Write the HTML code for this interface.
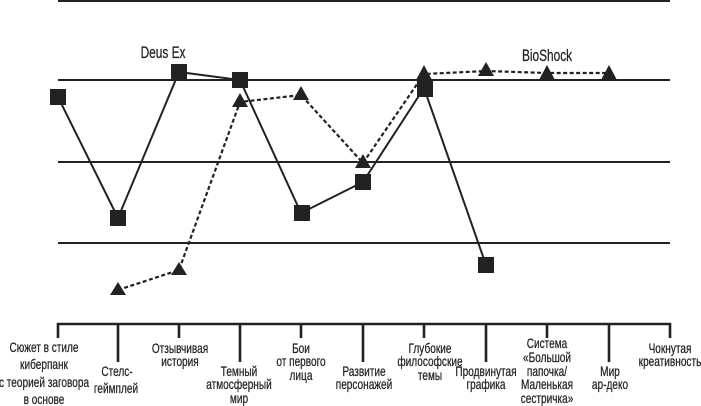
<!DOCTYPE html>
<html><head><meta charset="utf-8"><style>
html,body{margin:0;padding:0;background:#fff;}
svg{display:block;}
text{font-family:"Liberation Sans","DejaVu Sans",sans-serif;fill:#222;stroke:#222;stroke-width:0.25;}
.l{font-size:14px;}
</style></head><body>
<svg width="701" height="406" viewBox="0 0 701 406" xmlns="http://www.w3.org/2000/svg">
<g stroke="#222" stroke-width="2">
<line x1="58" y1="1" x2="670" y2="1"/>
<line x1="58" y1="80" x2="670" y2="80"/>
<line x1="58" y1="162" x2="670" y2="162"/>
<line x1="58" y1="243" x2="670" y2="243"/>
</g>
<g stroke="#222" stroke-width="2.6" fill="none">
<line x1="57" y1="324" x2="671" y2="324"/>
<line x1="58" y1="323" x2="58" y2="338"/>
<line x1="118" y1="323" x2="118" y2="362"/>
<line x1="179" y1="323" x2="179" y2="338"/>
<line x1="240" y1="323" x2="240" y2="362"/>
<line x1="301" y1="323" x2="301" y2="338"/>
<line x1="363" y1="323" x2="363" y2="362"/>
<line x1="424" y1="323" x2="424" y2="338"/>
<line x1="486" y1="323" x2="486" y2="362"/>
<line x1="547" y1="323" x2="547" y2="338"/>
<line x1="609" y1="323" x2="609" y2="362"/>
<line x1="670" y1="323" x2="670" y2="338"/>
</g>
<!-- BioShock dashed -->
<polyline fill="none" stroke="#222" stroke-width="2.2" stroke-dasharray="4,2.5" points="118,290 179,270 240,102 301,95 363,163 424,74 486,71 547,73 609,73"/>
<g fill="#222">
<polygon points="110,295 126,295 118,282"/>
<polygon points="171,275 187,275 179,262"/>
<polygon points="232,107 248,107 240,93"/>
<polygon points="293,100 309,100 301,86"/>
<polygon points="355,168 371,168 363,154"/>
<polygon points="478,76 494,76 486,62"/>
<polygon points="539,80 555,80 547,65"/>
<polygon points="601,80 617,80 609,65"/>
</g>
<!-- Deus Ex solid -->
<polyline fill="none" stroke="#222" stroke-width="2" points="58,97 118,218 179,72 240,80 301,213 363,182 424,88 486,265"/>
<g fill="#222">
<rect x="50" y="89" width="16" height="16"/>
<rect x="110" y="210" width="16" height="16"/>
<rect x="171" y="64" width="16" height="16"/>
<rect x="232" y="72" width="16" height="16"/>
<rect x="294" y="205" width="16" height="16"/>
<rect x="355" y="174" width="16" height="16"/>
<rect x="417" y="81" width="16" height="16"/>
<rect x="478" y="257" width="16" height="16"/>
<polygon points="416,80 432,80 424,65"/>
</g>
<text transform="translate(163,58) scale(0.72,1)" text-anchor="middle" style="font-size:16.5px">Deus Ex</text>
<text transform="translate(547,61) scale(0.72,1)" text-anchor="middle" style="font-size:16.5px">BioShock</text>
<g class="l" text-anchor="middle">
<text transform="translate(44,352) scale(0.72,1)">Сюжет в стиле</text>
<text transform="translate(44,369) scale(0.72,1)">киберпанк</text>
<text transform="translate(44,387) scale(0.72,1)">с теорией  заговора</text>
<text transform="translate(44,404) scale(0.72,1)">в основе</text>
<text transform="translate(117,376) scale(0.72,1)">Стелс-</text>
<text transform="translate(116,393) scale(0.72,1)">геймплей</text>
<text transform="translate(180,353) scale(0.72,1)">Отзывчивая</text>
<text transform="translate(180,366) scale(0.72,1)">история</text>
<text transform="translate(239,376) scale(0.72,1)">Темный</text>
<text transform="translate(239,389) scale(0.72,1)">атмосферный</text>
<text transform="translate(239,403) scale(0.72,1)">мир</text>
<text transform="translate(301,353) scale(0.72,1)">Бои</text>
<text transform="translate(301,366) scale(0.72,1)">от первого</text>
<text transform="translate(301,380) scale(0.72,1)">лица</text>
<text transform="translate(364,376) scale(0.72,1)">Развитие</text>
<text transform="translate(364,389) scale(0.72,1)">персонажей</text>
<text transform="translate(430,353) scale(0.72,1)">Глубокие</text>
<text transform="translate(430,366) scale(0.72,1)">философские</text>
<text transform="translate(430,380) scale(0.72,1)">темы</text>
<text transform="translate(486,376) scale(0.72,1)">Продвинутая</text>
<text transform="translate(486,389) scale(0.72,1)">графика</text>
<text transform="translate(547,348) scale(0.72,1)">Система</text>
<text transform="translate(547,362) scale(0.72,1)">«Большой</text>
<text transform="translate(547,376) scale(0.72,1)">папочка/</text>
<text transform="translate(547,389) scale(0.72,1)">Маленькая</text>
<text transform="translate(547,403) scale(0.72,1)">сестричка»</text>
<text transform="translate(610,376) scale(0.72,1)">Мир</text>
<text transform="translate(610,389) scale(0.72,1)">ар-деко</text>
<text transform="translate(670,353) scale(0.72,1)">Чокнутая</text>
<text transform="translate(670,366) scale(0.72,1)">креативность</text>
</g>
</svg>
</body></html>
